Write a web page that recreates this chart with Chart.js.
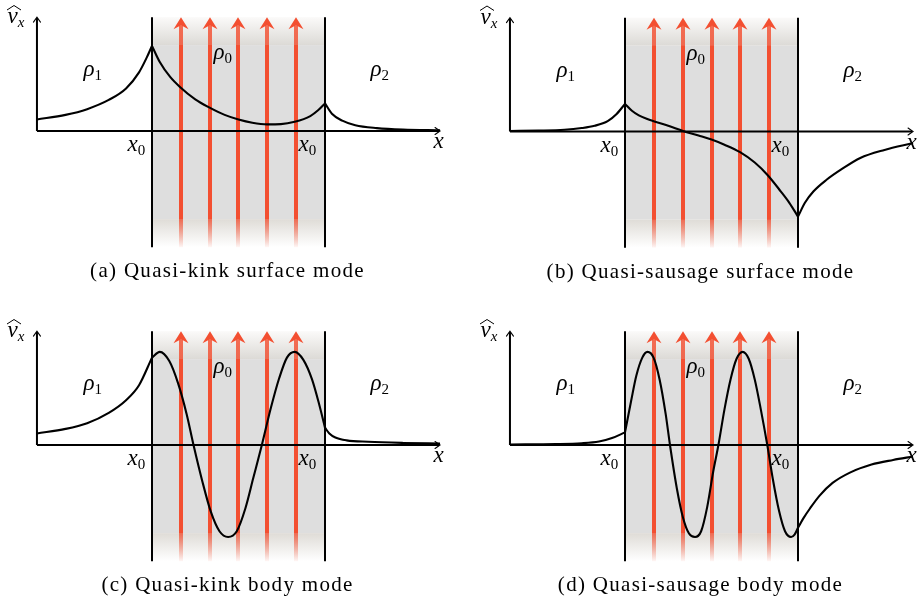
<!DOCTYPE html>
<html>
<head>
<meta charset="utf-8">
<script src="https://cdn.jsdelivr.net/npm/chart.js"></script>
<style>
  body { margin: 0; background: #fff; }
  #wrap { position: relative; width: 920px; height: 597px; }
  #wrap canvas { position: absolute; }
</style>
</head>
<body>
<div id="wrap">
  <canvas id="pa" width="460" height="300" style="left:0;top:0"></canvas>
  <canvas id="pb" width="460" height="300" style="left:460px;top:0"></canvas>
  <canvas id="pc" width="460" height="297" style="left:0;top:300px"></canvas>
  <canvas id="pd" width="460" height="297" style="left:460px;top:300px"></canvas>
</div>
<script>
// x in units of x0, slab between the two interfaces
const interfaces = [-1, 1];
const fieldLines = [-0.66, -0.33, 0, 0.33, 0.66];
const axisEnd = 2.33;

const captions = [
  '(a) Quasi-kink surface mode',
  '(b) Quasi-sausage surface mode',
  '(c) Quasi-kink body mode',
  '(d) Quasi-sausage body mode'
];

// quasi-kink surface mode: rho1 side, slab, rho2 side
const kinkSurf1 = [[-2.33,0.10],[-2.0,0.14],[-1.75,0.19],[-1.5,0.27],[-1.3,0.37],[-1.15,0.51],[-1.06,0.64],[-1.0,0.74]];
const kinkSurf0 = [[-1.0,0.74],[-0.91,0.60],[-0.79,0.47],[-0.68,0.385],[-0.5,0.275],[-0.34,0.205],[-0.16,0.14],[0,0.10],[0.16,0.072],[0.33,0.058],[0.49,0.06],[0.65,0.08],[0.83,0.13],[0.92,0.18],[1.0,0.24]];
const kinkSurf2 = [[1.0,0.24],[1.08,0.15],[1.2,0.09],[1.35,0.05],[1.6,0.025],[1.9,0.012],[2.33,0.006]];

// quasi-sausage surface mode
const sausSurf1 = [[-2.33,0.005],[-2.0,0.008],[-1.7,0.015],[-1.5,0.03],[-1.35,0.05],[-1.2,0.09],[-1.1,0.15],[-1.0,0.24]];
const sausSurf0 = [[-1.0,0.24],[-0.92,0.18],[-0.84,0.14],[-0.75,0.11],[-0.65,0.085],[-0.5,0.05],[-0.33,0.005],[-0.15,-0.035],[0,-0.07],[0.15,-0.115],[0.33,-0.18],[0.5,-0.27],[0.65,-0.38],[0.8,-0.52],[0.9,-0.62],[1.0,-0.74]];
const sausSurf2 = [[1.0,-0.74],[1.08,-0.62],[1.18,-0.52],[1.33,-0.42],[1.5,-0.33],[1.72,-0.23],[2.0,-0.16],[2.33,-0.10]];

// quasi-kink body mode
const kinkBody1 = [[-2.33,0.10],[-2.0,0.14],[-1.75,0.19],[-1.5,0.28],[-1.3,0.39],[-1.15,0.52],[-1.0,0.76]];
const kinkBody0 = [[-1.0,0.76],[-0.91,0.81],[-0.8,0.73],[-0.7,0.54],[-0.6,0.27],[-0.52,0],[-0.42,-0.31],[-0.32,-0.58],[-0.22,-0.75],[-0.12,-0.80],[-0.02,-0.75],[0.08,-0.55],[0.17,-0.29],[0.27,0],[0.37,0.31],[0.47,0.58],[0.56,0.76],[0.65,0.81],[0.75,0.74],[0.85,0.57],[0.93,0.36],[1.0,0.15]];
const kinkBody2 = [[1.0,0.15],[1.05,0.10],[1.12,0.065],[1.25,0.04],[1.5,0.028],[1.9,0.018],[2.33,0.012]];

// quasi-sausage body mode
const sausBody1 = [[-2.33,0.005],[-1.8,0.008],[-1.5,0.015],[-1.3,0.03],[-1.15,0.06],[-1.0,0.11]];
const sausBody0 = [[-1.0,0.11],[-0.93,0.38],[-0.87,0.60],[-0.8,0.76],[-0.74,0.81],[-0.67,0.76],[-0.6,0.57],[-0.53,0.27],[-0.48,0],[-0.40,-0.38],[-0.33,-0.63],[-0.26,-0.77],[-0.19,-0.80],[-0.12,-0.75],[-0.05,-0.54],[0.02,-0.23],[0.08,0],[0.15,0.31],[0.22,0.57],[0.29,0.75],[0.36,0.81],[0.43,0.75],[0.5,0.57],[0.57,0.31],[0.645,0],[0.71,-0.30],[0.78,-0.57],[0.85,-0.75],[0.92,-0.80],[0.96,-0.78],[1.0,-0.72]];
const sausBody2 = [[1.0,-0.72],[1.06,-0.64],[1.14,-0.55],[1.25,-0.44],[1.4,-0.33],[1.6,-0.24],[1.85,-0.17],[2.1,-0.13],[2.33,-0.10]];

// pixels per unit, and where (0,0) sits on each canvas
const UX = 86.5, UY = 115;
const panels = [
  { id: 'pa', ox: 238.5, oy: 131,   caption: captions[0], curves: [kinkSurf1, kinkSurf0, kinkSurf2] },
  { id: 'pb', ox: 251.5, oy: 131.5, caption: captions[1], curves: [sausSurf1, sausSurf0, sausSurf2] },
  { id: 'pc', ox: 238.5, oy: 145,   caption: captions[2], curves: [kinkBody1, kinkBody0, kinkBody2] },
  { id: 'pd', ox: 251.5, oy: 145,   caption: captions[3], curves: [sausBody1, sausBody0, sausBody2] }
];

const RED = '243,79,49';
const MATH = '"Liberation Serif", "DejaVu Serif", serif';

function symbol(ctx, base, sub, x, y) {
  ctx.font = 'italic 23px ' + MATH;
  ctx.fillText(base, x, y);
  const w = ctx.measureText(base).width;
  if (sub !== '') {
    ctx.font = (/[a-z]/.test(sub) ? 'italic ' : '') + '15px ' + MATH;
    ctx.fillText(sub, x + w, y + 4);
  }
}

function axisArrow(ctx, x, y, dir) {
  // thin open head at the end of an axis
  ctx.save();
  ctx.lineWidth = 1.1;
  ctx.lineCap = 'round';
  ctx.beginPath();
  if (dir === 'up') {
    ctx.moveTo(x - 3.5, y + 5); ctx.lineTo(x, y); ctx.lineTo(x + 3.5, y + 5);
  } else {
    ctx.moveTo(x - 5, y - 3.5); ctx.lineTo(x, y); ctx.lineTo(x - 5, y + 3.5);
  }
  ctx.stroke();
  ctx.restore();
}

function fieldHead(ctx, x, y) {
  // filled head with a notched back
  ctx.beginPath();
  ctx.moveTo(x, y);
  ctx.lineTo(x + 7.5, y + 12);
  ctx.lineTo(x, y + 8);
  ctx.lineTo(x - 7.5, y + 12);
  ctx.closePath();
  ctx.fill();
}

const slabPlugin = {
  id: 'slab',
  beforeDatasetsDraw(chart) {
    const { ctx } = chart;
    const xs = chart.scales.x, ys = chart.scales.y;
    const xl = xs.getPixelForValue(interfaces[0]);
    const xr = xs.getPixelForValue(interfaces[1]);
    const yt = ys.getPixelForValue(0.99);
    const yb = ys.getPixelForValue(-1.01);
    const y0 = ys.getPixelForValue(0);
    const fade = 28;
    ctx.save();

    // grey slab, fading out at the top and bottom
    ctx.fillStyle = '#dedede';
    ctx.fillRect(xl, yt + fade, xr - xl, yb - yt - 2 * fade);
    let g = ctx.createLinearGradient(0, yt, 0, yt + fade);
    g.addColorStop(0, '#fbfaf9');
    g.addColorStop(1, '#dcdad6');
    ctx.fillStyle = g;
    ctx.fillRect(xl, yt, xr - xl, fade);
    g = ctx.createLinearGradient(0, yb - fade, 0, yb);
    g.addColorStop(0, '#dfdcd7');
    g.addColorStop(1, '#ffffff');
    ctx.fillStyle = g;
    ctx.fillRect(xl, yb - fade, xr - xl, fade);

    // magnetic field lines
    const h = yb - yt;
    fieldLines.forEach(v => {
      const px = Math.round(xs.getPixelForValue(v));
      const sg = ctx.createLinearGradient(0, yb, 0, yt);
      sg.addColorStop(0, 'rgba(' + RED + ',0.05)');
      sg.addColorStop(fade / h, 'rgba(' + RED + ',0.8)');
      sg.addColorStop(fade / h + 0.001, 'rgba(' + RED + ',1)');
      sg.addColorStop(1 - fade / h, 'rgba(' + RED + ',1)');
      sg.addColorStop(1 - fade / h + 0.001, 'rgba(' + RED + ',0.82)');
      sg.addColorStop(1, 'rgba(' + RED + ',0.82)');
      ctx.strokeStyle = sg;
      ctx.lineWidth = 4;
      ctx.beginPath();
      ctx.moveTo(px, yb);
      ctx.lineTo(px, yt + 8);
      ctx.stroke();
      ctx.fillStyle = 'rgb(' + RED + ')';
      fieldHead(ctx, px, yt);
    });

    // interfaces
    ctx.strokeStyle = '#000';
    ctx.lineWidth = 2;
    ctx.beginPath();
    [xl, xr].forEach(px => { ctx.moveTo(px, yt); ctx.lineTo(px, yb); });
    ctx.stroke();

    // axes
    const xa = xs.getPixelForValue(-axisEnd), xb = xs.getPixelForValue(axisEnd);
    ctx.beginPath();
    ctx.moveTo(xa, y0); ctx.lineTo(xb - 1, y0);
    ctx.moveTo(xa, y0); ctx.lineTo(xa, yt + 1);
    ctx.stroke();
    axisArrow(ctx, xb, y0, 'right');
    axisArrow(ctx, xa, yt, 'up');
    ctx.restore();
  },
  afterDatasetsDraw(chart, args, opts) {
    const { ctx } = chart;
    const ox = chart.scales.x.getPixelForValue(0);
    const oy = chart.scales.y.getPixelForValue(0);
    ctx.save();
    ctx.fillStyle = '#000';
    ctx.textBaseline = 'alphabetic';
    ctx.textAlign = 'left';

    // hatted v_x on the vertical axis
    symbol(ctx, 'v', 'x', ox - 231, oy - 108);
    ctx.strokeStyle = '#000';
    ctx.lineWidth = 1;
    ctx.beginPath();
    ctx.moveTo(ox - 231.5, oy - 121);
    ctx.lineTo(ox - 224.5, oy - 125.5);
    ctx.lineTo(ox - 217.5, oy - 121);
    ctx.stroke();

    symbol(ctx, 'ρ', '1', ox - 155, oy - 55);
    symbol(ctx, 'ρ', '0', ox - 25, oy - 72);
    symbol(ctx, 'ρ', '2', ox + 132, oy - 55);
    symbol(ctx, 'x', '0', ox - 111, oy + 20);
    symbol(ctx, 'x', '0', ox + 60, oy + 20);
    symbol(ctx, 'x', '', ox + 195, oy + 17);

    ctx.font = '21px ' + MATH;
    ctx.letterSpacing = '1.3px';
    ctx.textAlign = 'center';
    ctx.fillText(opts.caption, ox - 11, oy + 146);
    ctx.restore();
  }
};

panels.forEach(p => {
  const cv = document.getElementById(p.id);
  const W = cv.width, H = cv.height;
  new Chart(cv, {
    type: 'line',
    data: {
      datasets: p.curves.map(c => ({
        data: c.map(([x, y]) => ({ x, y })),
        borderColor: '#000',
        borderWidth: 2.1,
        pointRadius: 0,
        fill: false,
        cubicInterpolationMode: 'monotone'
      }))
    },
    options: {
      responsive: false,
      animation: false,
      devicePixelRatio: 1,
      layout: { padding: 0 },
      scales: {
        x: { type: 'linear', display: false, min: -p.ox / UX, max: (W - p.ox) / UX },
        y: { type: 'linear', display: false, min: -(H - p.oy) / UY, max: p.oy / UY }
      },
      plugins: {
        legend: { display: false },
        tooltip: { enabled: false },
        slab: { caption: p.caption }
      }
    },
    plugins: [slabPlugin]
  });
});
</script>
</body>
</html>
